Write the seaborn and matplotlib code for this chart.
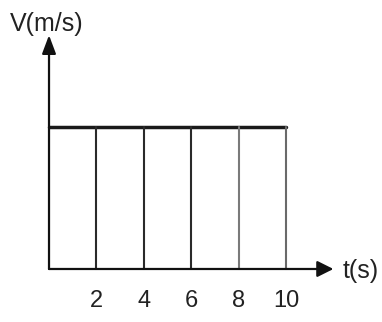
import matplotlib
matplotlib.use("Agg")
import matplotlib.pyplot as plt
import seaborn as sns
import pandas as pd

# ---- data ----
t_line = [0, 10]            # horizontal segment of constant velocity
v_line = [3, 3]
t_marks = [2, 4, 6, 8, 10]  # vertical division lines
tick_labels = ["2", "4", "6", "8", "10"]
v_const = 3
x_label = "t(s)"
y_label = "V(m/s)"
t_axis_end = 12
v_axis_end = 4.94

sns.set_theme(style="white")
plt.rcParams["font.family"] = ["Liberation Sans", "DejaVu Sans"]

fig = plt.figure(figsize=(3.82, 3.22), dpi=100)
ax = fig.add_axes([0, 0, 1, 1])
ax.set_facecolor("white")
ax.set_xlim(-2.068, 14.05)
ax.set_ylim(-1.120, 5.683)

# horizontal line
sns.lineplot(x=t_line, y=v_line, ax=ax, color="#1a1a1a", linewidth=2.5)

# vertical lines
line_colors = {2: "#2a2a2a", 4: "#2a2a2a", 6: "#2a2a2a", 8: "#7a7a7a", 10: "#6a6a6a"}
for t in t_marks:
    df = pd.DataFrame({"t": [t, t], "v": [0, v_const]})
    sns.lineplot(data=df, x="t", y="v", ax=ax, color=line_colors[t],
                 linewidth=1.5, estimator=None, sort=False)

# axes with arrows
ax.annotate("", xy=(t_axis_end, 0), xytext=(0, 0),
            arrowprops=dict(arrowstyle="-|>,head_length=0.7,head_width=0.35",
                            color="#111111", lw=1.6, mutation_scale=14,
                            shrinkA=0, shrinkB=0))
ax.annotate("", xy=(0, v_axis_end), xytext=(0, 0),
            arrowprops=dict(arrowstyle="-|>,head_length=0.8,head_width=0.3",
                            color="#111111", lw=1.6, mutation_scale=14,
                            shrinkA=0, shrinkB=0))

for s in ax.spines.values():
    s.set_visible(False)
ax.spines["bottom"].set_position(("data", 0))
ax.set_xticks(t_marks)
ax.set_xticklabels(tick_labels)
ax.set_yticks([])
ax.tick_params(axis="x", length=0, pad=15, labelsize=17, labelcolor="#222222")
ax.set_xlabel("")
ax.set_ylabel("")

ax.text(12.4, -0.05, x_label, fontsize=18, ha="left", va="center", color="#222222")
ax.text(-0.1, 5.17, y_label, fontsize=18, ha="center", va="center", color="#222222")

fig.savefig("out.png", dpi=100)
